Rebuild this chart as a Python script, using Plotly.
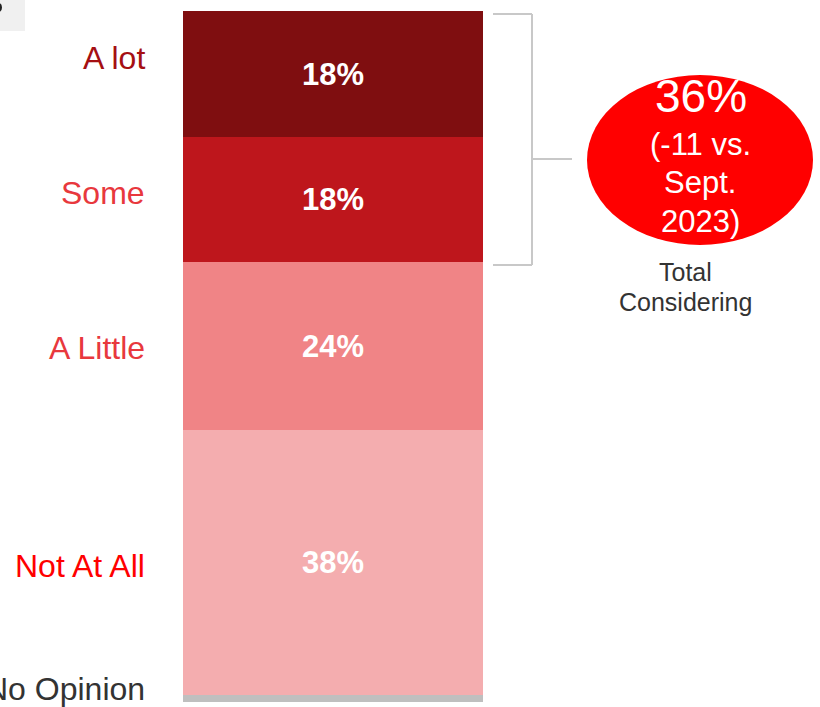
import plotly.graph_objects as go

# ---- data ----
categories = ["No Opinion", "Not At All", "A Little", "Some", "A lot"]  # bottom -> top
values = [1, 38, 24, 18, 18]
bar_text = ["", "38%", "24%", "18%", "18%"]
total_considering = "36%"
change_lines = ["(-11 vs.", "Sept.", "2023)"]
caption_lines = ["Total", "Considering"]

# ---- styles ----
bar_colors = ["#BFBFBF", "#F4ADAF", "#F08486", "#BE161C", "#7F0E10"]
label_colors = ["#333333", "#FF0000", "#E8383D", "#E8383D", "#A50F12"]
label_yshift = [10, -4, -2, 6, 16]

W, H = 820, 707
FONT = "Liberation Sans, Arial, sans-serif"

def px(x):
    return x / W

def py(y):
    return 1 - y / H

fig = go.Figure()
for cat, val, txt, col in zip(categories, values, bar_text, bar_colors):
    fig.add_trace(go.Bar(
        x=["Total"], y=[val], name=cat,
        marker=dict(color=col, line=dict(width=0)),
        text=[f"<b>{txt}</b>" if txt else ""],
        textposition="inside", insidetextanchor="middle",
        textfont=dict(family=FONT, size=31, color="white"),
        constraintext="none",
        hoverinfo="skip",
    ))

total = sum(values)
annotations = []
cum = 0
for cat, val, col, ys in zip(categories, values, label_colors, label_yshift):
    center = cum + val / 2
    cum += val
    annotations.append(dict(
        x=px(147), xref="paper", y=center, yref="y",
        text=cat, showarrow=False, xanchor="right", yanchor="middle",
        yshift=ys,
        font=dict(family=FONT, size=32, color=col),
    ))

# circle text
annotations.append(dict(x=px(701), y=py(96), xref="paper", yref="paper",
                        text=total_considering, showarrow=False,
                        xanchor="center", yanchor="middle",
                        font=dict(family=FONT, size=46, color="white")))
for line, yy in zip(change_lines, [145, 183, 221]):
    annotations.append(dict(x=px(700), y=py(yy), xref="paper", yref="paper",
                            text=line, showarrow=False,
                            xanchor="center", yanchor="middle",
                            font=dict(family=FONT, size=31, color="white")))
for line, yy in zip(caption_lines, [272, 302]):
    annotations.append(dict(x=px(685), y=py(yy), xref="paper", yref="paper",
                            text=line, showarrow=False,
                            xanchor="center", yanchor="middle",
                            font=dict(family=FONT, size=25, color="#333333")))

line_style = dict(color="#C8C8C8", width=2)
shapes = [
    # top-left partial element
    dict(type="rect", xref="paper", yref="paper", x0=px(0), x1=px(25), y0=py(31), y1=py(0),
         fillcolor="#F0F0F0", line=dict(width=0), layer="below"),
    dict(type="circle", xref="paper", yref="paper", x0=px(-5), x1=px(2), y0=py(12), y1=py(3),
         fillcolor="#222222", line=dict(width=0)),
    # bracket
    dict(type="line", xref="paper", yref="paper", x0=px(493), x1=px(532), y0=py(14), y1=py(14), line=line_style),
    dict(type="line", xref="paper", yref="paper", x0=px(493), x1=px(532), y0=py(265), y1=py(265), line=line_style),
    dict(type="line", xref="paper", yref="paper", x0=px(532), x1=px(532), y0=py(14), y1=py(265), line=line_style),
    dict(type="line", xref="paper", yref="paper", x0=px(532), x1=px(572), y0=py(159), y1=py(159), line=line_style),
    # circle
    dict(type="circle", xref="paper", yref="paper", x0=px(587), x1=px(813), y0=py(245), y1=py(75),
         fillcolor="#FF0000", line=dict(width=0), layer="below"),
]

fig.update_layout(
    width=W, height=H,
    margin=dict(l=0, r=0, t=0, b=0),
    paper_bgcolor="white", plot_bgcolor="white",
    barmode="stack", bargap=0,
    showlegend=False,
    xaxis=dict(domain=[px(183), px(483)], visible=False, fixedrange=True),
    yaxis=dict(domain=[5 / H, 696 / H], range=[0, total], visible=False, fixedrange=True),
    annotations=annotations,
    shapes=shapes,
)

fig.write_html(
    "out.html",
    config={"displayModeBar": False},
    post_script="document.body.style.margin='0';document.body.style.overflow='hidden';",
)
